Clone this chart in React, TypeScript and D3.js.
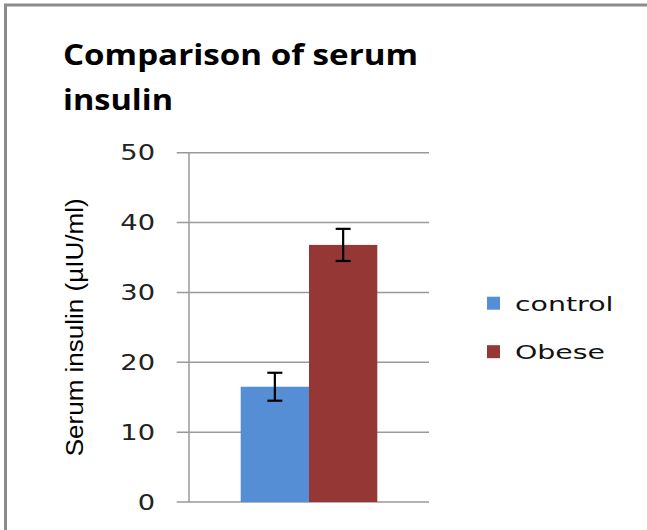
import React from 'react';
import * as d3 from 'd3';

const groups = ['control', 'Obese'];
const means = [16.5, 36.8];
const errors = [2.0, 2.3];
const colors = ['#558ED5', '#953735'];
const yTicks = [0, 10, 20, 30, 40, 50];

const W = 647;
const H = 530;
const plot = { left: 189, right: 429, top: 152.7, bottom: 502 };

const App: React.FC = () => {
  const y = d3.scaleLinear().domain([0, 50]).range([plot.bottom, plot.top]);
  const x = d3.scaleBand<string>()
    .domain(groups)
    .range([plot.left, plot.right])
    .paddingInner(0)
    .paddingOuter(0.757);

  const labelMid = (plot.top + plot.bottom) / 2;

  return (
    <svg
      width={W}
      height={H}
      style={{ position: 'absolute', left: 0, top: 0, background: '#fff' }}
    >
      {/* frame edges */}
      <line x1={5.5} y1={4} x2={5.5} y2={H} stroke="#8c8c8c" strokeWidth={3} />
      <line x1={4} y1={5} x2={W} y2={5} stroke="#8c8c8c" strokeWidth={3} />

      {/* title */}
      <text
        x={63}
        y={65}
        fontFamily="'Open Sans', sans-serif"
        fontWeight="bold"
        fontSize={29}
        fill="#000"
        textLength={355}
        lengthAdjust="spacingAndGlyphs"
      >
        Comparison of serum
      </text>
      <text
        x={63}
        y={110}
        fontFamily="'Open Sans', sans-serif"
        fontWeight="bold"
        fontSize={29}
        fill="#000"
        textLength={110}
        lengthAdjust="spacingAndGlyphs"
      >
        insulin
      </text>

      {/* gridlines + ticks */}
      {yTicks.map(t => (
        <g key={t}>
          <line
            x1={176.7}
            x2={plot.right}
            y1={y(t)}
            y2={y(t)}
            stroke="#9a9a9a"
            strokeWidth={1.5}
          />
          <text
            transform={`translate(155, ${y(t)}) scale(1.3, 1)`}
            dy="0.36em"
            textAnchor="end"
            fontFamily="'DejaVu Sans', sans-serif"
            fontSize={21}
            fill="#222"
          >
            {t}
          </text>
        </g>
      ))}
      <line
        x1={plot.left}
        x2={plot.left}
        y1={plot.top}
        y2={plot.bottom}
        stroke="#9a9a9a"
        strokeWidth={1.5}
      />

      {/* y label */}
      <text
        transform={`translate(83, ${labelMid}) rotate(-90)`}
        textAnchor="middle"
        fontFamily="'Liberation Sans', sans-serif"
        fontSize={23}
        fill="#000"
        textLength={258}
        lengthAdjust="spacingAndGlyphs"
      >
        Serum insulin (µIU/ml)
      </text>

      {/* bars */}
      {groups.map((g, i) => (
        <rect
          key={g}
          x={x(g)}
          y={y(means[i])}
          width={x.bandwidth()}
          height={y(0) - y(means[i])}
          fill={colors[i]}
        />
      ))}

      {/* error bars */}
      {groups.map((g, i) => {
        const cx = (x(g) as number) + x.bandwidth() / 2;
        const hi = y(means[i] + errors[i]);
        const lo = y(means[i] - errors[i]);
        return (
          <g key={g} stroke="#000" strokeWidth={2.2}>
            <line x1={cx} x2={cx} y1={hi} y2={lo} />
            <line x1={cx - 7.5} x2={cx + 7.5} y1={hi} y2={hi} />
            <line x1={cx - 7.5} x2={cx + 7.5} y1={lo} y2={lo} />
          </g>
        );
      })}

      {/* legend */}
      {groups.map((g, i) => {
        const ly = 296.7 + i * 48.5;
        return (
          <g key={g}>
            <rect x={487} y={ly} width={13} height={13} fill={colors[i]} />
            <text
              transform={`translate(515, ${ly + 14}) scale(1.42, 1)`}
              fontFamily="'DejaVu Sans', sans-serif"
              fontSize={20}
              fill="#111"
            >
              {g}
            </text>
          </g>
        );
      })}
    </svg>
  );
};

export default App;
